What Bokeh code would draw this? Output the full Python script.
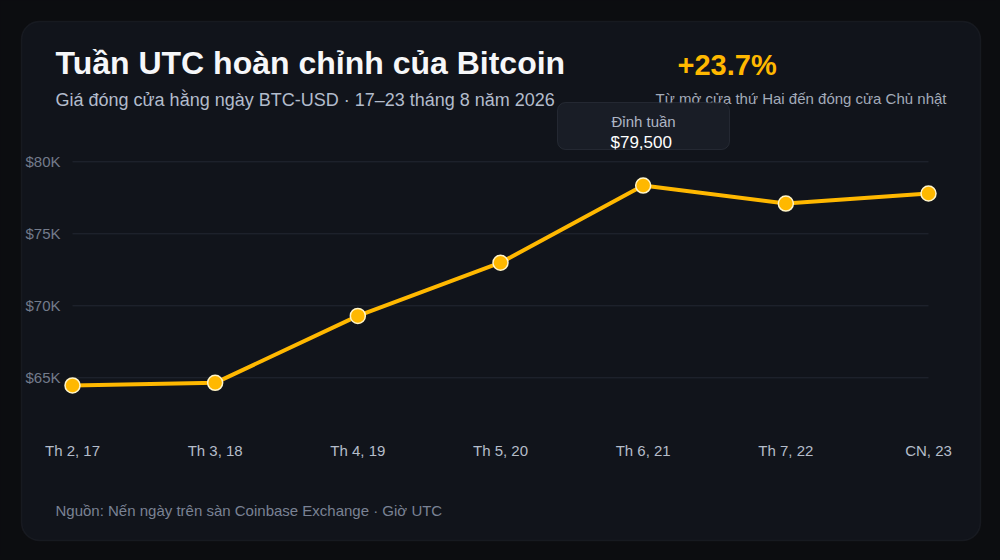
from bokeh.plotting import figure
from bokeh.models import Range1d, FixedTicker, BoxAnnotation, Label, GlobalInlineStyleSheet
from bokeh.embed import file_html
from bokeh.resources import INLINE

# data
days = ["Th 2, 17", "Th 3, 18", "Th 4, 19", "Th 5, 20", "Th 6, 21", "Th 7, 22", "CN, 23"]
closes = [64470, 64650, 69300, 72990, 78350, 77100, 77800]
y_ticks = [65000, 70000, 75000, 80000]
y_tick_labels = ["$65K", "$70K", "$75K", "$80K"]
week_high = 79500
week_change_pct = 23.7

title = "Tuần UTC hoàn chỉnh của Bitcoin"
subtitle = "Giá đóng cửa hằng ngày BTC-USD · 17–23 tháng 8 năm 2026"
change_note = "Từ mở cửa thứ Hai đến đóng cửa Chủ nhật"
peak_title = "Đỉnh tuần"
source = "Nguồn: Nến ngày trên sàn Coinbase Exchange · Giờ UTC"

FONT = "Liberation Sans"
AMBER = "#ffb800"
CARD = "#11141b"
PAGE_BG = "#0c0d10"

# the frame fills the whole canvas; pixel layout below is in page pixels
W, H = 996, 556
X_FIRST, X_LAST = 72, 928          # where first / last day sit
Y_REF, PX_PER_K = 377.3, 14.4      # $65K gridline and pixels per $1K

px_day = (X_LAST - X_FIRST) / (len(days) - 1)


def xval(px):
    return (px - X_FIRST) / px_day


def yval(py):
    return 65000 + (Y_REF - py) / PX_PER_K * 1000


p = figure(width=W, height=H, output_backend="svg", toolbar_location=None,
           x_range=Range1d(xval(0), xval(W)), y_range=Range1d(yval(H), yval(0)),
           min_border=0)
p.stylesheets = [GlobalInlineStyleSheet(css="html, body { background: %s; }" % PAGE_BG)]
p.border_fill_color = PAGE_BG
p.background_fill_color = PAGE_BG
p.outline_line_color = None
p.grid.visible = False


def box(l, r, t, b, **kw):
    p.add_layout(BoxAnnotation(left=l, right=r, top=H - t, bottom=H - b,
                               left_units="screen", right_units="screen",
                               top_units="screen", bottom_units="screen", **kw))


# card
box(21, 980, 21, 540, fill_color=CARD, fill_alpha=1, line_color="#2e323b",
    line_width=1.5, border_radius=18, level="underlay")

# axes, pinned inside the frame
p.xaxis.fixed_location = yval(421)
p.yaxis.fixed_location = xval(64)
p.xaxis.ticker = FixedTicker(ticks=list(range(len(days))))
p.xaxis.major_label_overrides = {i: d for i, d in enumerate(days)}
p.yaxis.ticker = FixedTicker(ticks=y_ticks)
p.yaxis.major_label_overrides = {t: l for t, l in zip(y_ticks, y_tick_labels)}
for ax in (p.xaxis, p.yaxis):
    ax.axis_line_color = None
    ax.major_tick_line_color = None
    ax.minor_tick_line_color = None
    ax.major_tick_out = 0
    ax.major_label_text_font = FONT
    ax.major_label_text_font_size = "15px"
p.xaxis.major_label_text_color = "#b5bdca"
p.xaxis.major_label_standoff = 20
p.yaxis.major_label_text_color = "#737b8b"
p.yaxis.major_label_standoff = 4

# grid lines from first to last day
p.segment(x0=[0] * len(y_ticks), x1=[len(days) - 1] * len(y_ticks), y0=y_ticks, y1=y_ticks,
          line_color="#232733", line_width=1)

xs = list(range(len(days)))
p.line(xs, closes, line_color=AMBER, line_width=4)
p.scatter(xs, closes, size=15, fill_color=AMBER, line_color="#fff4c8", line_width=1.5)


def label(px, base, text, size, color, bold=False, align="left"):
    # base is the wanted baseline in page pixels; labels land ~0.41em low
    p.add_layout(Label(x=px, y=H - (base - 0.41 * size), x_units="screen", y_units="screen",
                       text=text, text_font=FONT, text_font_size="%gpx" % size,
                       text_color=color, text_font_style="bold" if bold else "normal",
                       text_align=align, text_baseline="alphabetic"))


label(55, 76, title, 32, "#f6f7f9", bold=True)
label(55, 107, subtitle, 18, "#b3bccc")
label(677, 76, "+%.1f%%" % week_change_pct, 29, AMBER, bold=True)
label(946, 104, change_note, 15, "#a3abb9", align="right")

# peak callout
box(557, 729, 102, 149, fill_color="#1a1e27", fill_alpha=0.93, line_color="#4a505c",
    line_width=1, border_radius=8)
label(611, 127, peak_title, 15, "#aeb6c4")
label(610, 149, "${:,}".format(week_high), 17, "#ffffff")

label(55, 516, source, 15, "#7a8294")

open("out.html", "w").write(file_html(p, INLINE))
